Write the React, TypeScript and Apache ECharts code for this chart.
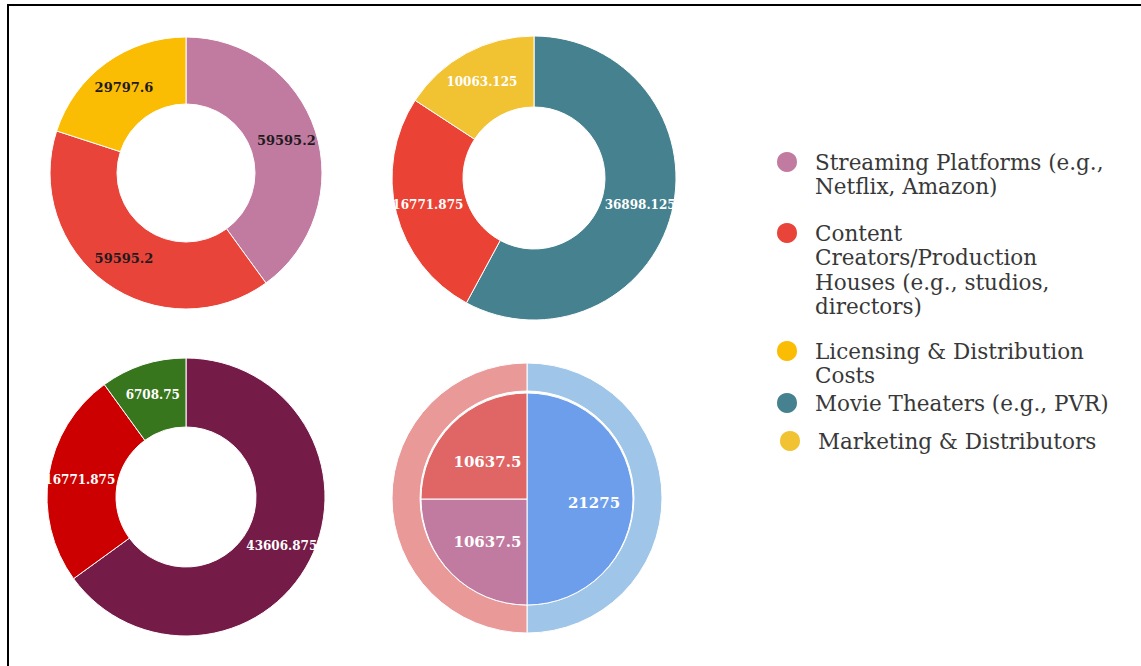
import React, { useEffect, useRef } from "react";
import * as echarts from "echarts";

// ---- Data ----
const STREAMING = "Streaming Platforms (e.g., Netflix, Amazon)";
const CONTENT = "Content Creators/Production Houses (e.g., studios, directors)";
const LICENSING = "Licensing & Distribution Costs";
const THEATERS = "Movie Theaters (e.g., PVR)";
const MARKETING = "Marketing & Distributors";

const chart1Names = [STREAMING, CONTENT, LICENSING];
const chart1Values = [59595.2, 59595.2, 29797.6];
const chart1Colors = ["#c27ba0", "#e9443a", "#fbbc04"];

const chart2Names = [THEATERS, CONTENT, MARKETING];
const chart2Values = [36898.125, 16771.875, 10063.125];
const chart2Colors = ["#45818e", "#ea4335", "#f1c232"];

const chart3Names = ["Segment 1", "Segment 2", "Segment 3"];
const chart3Values = [43606.875, 16771.875, 6708.75];
const chart3Colors = ["#741b47", "#cc0000", "#38761d"];

const chart4InnerNames = ["Inner 1", "Inner 2", "Inner 3"];
const chart4InnerValues = [21275, 10637.5, 10637.5];
const chart4InnerColors = ["#6d9eeb", "#c27ba0", "#e06666"];

const chart4OuterNames = ["Outer 1", "Outer 2"];
const chart4OuterValues = [21275, 21275];
const chart4OuterColors = ["#9fc5e8", "#ea9999"];

const legendNames = [STREAMING, CONTENT, LICENSING, THEATERS, MARKETING];
const legendLines: string[][] = [
  ["Streaming Platforms (e.g.,", "Netflix, Amazon)"],
  ["Content", "Creators/Production", "Houses (e.g., studios,", "directors)"],
  ["Licensing & Distribution", "Costs"],
  ["Movie Theaters (e.g., PVR)"],
  ["Marketing & Distributors"],
];

const FONT = "'DejaVu Serif', 'Liberation Serif', serif";

function build(names: string[], values: number[], colors: string[]) {
  return names.map((n, i) => ({ name: n, value: values[i], itemStyle: { color: colors[i] } }));
}

export default function App() {
  const ref = useRef<HTMLDivElement>(null);
  useEffect(() => {
    if (!ref.current) return;
    const chart = echarts.init(ref.current, undefined, { renderer: "svg" });
    const LH = 24.5;
    const legendCenters = [162, 233, 351, 403, 441];
    const legendLefts = [775, 775, 775, 775, 778];
    const legends = legendNames.map((name, i) => {
      const lines = legendLines[i];
      const n = lines.length;
      const text = new Array(n - 1).fill("").concat(lines).join("\n");
      const H = (2 * n - 1) * LH;
      return {
        data: [name],
        left: legendLefts[i],
        top: legendCenters[i] - H / 2,
        padding: 0,
        orient: "vertical",
        icon: "circle",
        itemWidth: 46,
        itemHeight: 22,
        formatter: () => text,
        textStyle: { fontFamily: FONT, fontSize: 21.5, color: "#383838", lineHeight: LH },
      };
    });

    const baseSeries = {
      type: "pie",
      startAngle: 90,
      clockwise: true,
      avoidLabelOverlap: false,
      labelLine: { show: false },
      emphasis: { disabled: true },
      itemStyle: { borderColor: "#ffffff", borderWidth: 1 },
    };

    chart.setOption({
      animation: false,
      backgroundColor: "#ffffff",
      legend: legends,
      graphic: [
        { type: "line", shape: { x1: 7, y1: 5, x2: 1141, y2: 5 }, style: { stroke: "#000", lineWidth: 2 } },
        { type: "line", shape: { x1: 8, y1: 4, x2: 8, y2: 666 }, style: { stroke: "#000", lineWidth: 2 } },
      ],
      series: [
        {
          ...baseSeries,
          name: "Chart 1",
          center: [186, 173],
          radius: [69, 136],
          label: { show: true, position: "inside", formatter: "{c}", fontFamily: FONT, fontSize: 13, fontWeight: "bold", color: "#1e1a1e" },
          data: build(chart1Names, chart1Values, chart1Colors),
        },
        {
          ...baseSeries,
          name: "Chart 2",
          center: [534, 178],
          radius: [71, 142],
          label: { show: true, position: "inside", formatter: "{c}", fontFamily: FONT, fontSize: 12, fontWeight: "bold", color: "#ffffff" },
          data: build(chart2Names, chart2Values, chart2Colors),
        },
        {
          ...baseSeries,
          name: "Chart 3",
          center: [186, 497],
          radius: [70, 139],
          label: { show: true, position: "inside", formatter: "{c}", fontFamily: FONT, fontSize: 12, fontWeight: "bold", color: "#ffffff" },
          data: build(chart3Names, chart3Values, chart3Colors),
        },
        {
          ...baseSeries,
          name: "Chart 4 outer",
          center: [527, 498],
          radius: [107, 135],
          label: { show: false },
          data: build(chart4OuterNames, chart4OuterValues, chart4OuterColors),
        },
        {
          ...baseSeries,
          name: "Chart 4 inner",
          center: [527, 499],
          radius: [0, 106],
          label: { show: true, position: "inside", formatter: "{c}", fontFamily: FONT, fontSize: 15, fontWeight: "bold", color: "#ffffff" },
          labelLayout: (p: any) => (p.dataIndex === 0 ? { dx: 11, dy: 4 } : { dy: 3 }),
          data: build(chart4InnerNames, chart4InnerValues, chart4InnerColors),
        },
      ],
    });
    return () => chart.dispose();
  }, []);
  return <div ref={ref} style={{ position: "absolute", left: 0, top: 0, width: 1141, height: 666 }} />;
}
